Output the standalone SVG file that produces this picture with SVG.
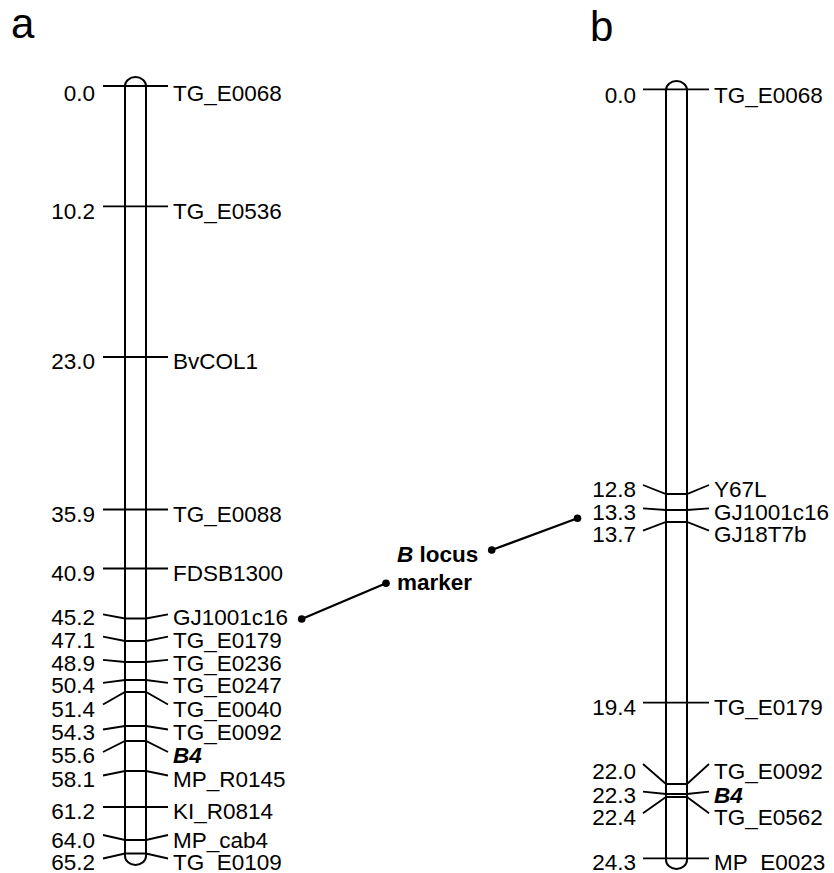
<svg xmlns="http://www.w3.org/2000/svg" width="834" height="873" viewBox="0 0 834 873">
<style>
text{font-family:"Liberation Sans",Arial,sans-serif;font-size:22.5px;fill:#000}
.num{text-anchor:end}
.b{font-weight:bold;font-style:italic}
.bl{font-weight:bold}
.panel{font-size:42px}
.chr{fill:none;stroke:#000;stroke-width:2}
.tk{fill:none;stroke:#000;stroke-width:1.8;stroke-linejoin:miter}
.con{stroke:#000;stroke-width:2.2;fill:none}
.dot{fill:#000}
</style>
<rect width="834" height="873" fill="#fff"/>
<text class="panel" x="11" y="38">a</text>
<text class="panel" x="590" y="41">b</text>

<g id="chrA">
<rect class="chr" x="125" y="77" width="21" height="788" rx="10.5" ry="9"/>
<g id="a_TG_E0068"><polyline class="tk" points="103,86 125,86 146,86 168,86"/><text class="num" x="95" y="101">0.0</text><text x="173" y="101">TG_E0068</text></g>
<g id="a_TG_E0536"><polyline class="tk" points="103,206.3 125,206.3 146,206.3 168,206.3"/><text class="num" x="95" y="218.5">10.2</text><text x="173" y="218.5">TG_E0536</text></g>
<g id="a_BvCOL1"><polyline class="tk" points="103,357 125,357 146,357 168,357"/><text class="num" x="95" y="369">23.0</text><text x="173" y="369">BvCOL1</text></g>
<g id="a_TG_E0088"><polyline class="tk" points="103,509.5 125,509.5 146,509.5 168,509.5"/><text class="num" x="95" y="521.5">35.9</text><text x="173" y="521.5">TG_E0088</text></g>
<g id="a_FDSB1300"><polyline class="tk" points="103,568.5 125,568.5 146,568.5 168,568.5"/><text class="num" x="95" y="580.5">40.9</text><text x="173" y="580.5">FDSB1300</text></g>
<g id="a_GJ1001c16"><polyline class="tk" points="103,614.3 125,618.5 146,618.5 168,614.3"/><text class="num" x="95" y="625">45.2</text><text x="173" y="625">GJ1001c16</text></g>
<g id="a_TG_E0179"><polyline class="tk" points="103,636.7 125,641 146,641 168,636.7"/><text class="num" x="95" y="648">47.1</text><text x="173" y="648">TG_E0179</text></g>
<g id="a_TG_E0236"><polyline class="tk" points="103,659.8 125,662 146,662 168,659.8"/><text class="num" x="95" y="670.5">48.9</text><text x="173" y="670.5">TG_E0236</text></g>
<g id="a_TG_E0247"><polyline class="tk" points="103,682.8 125,680 146,680 168,682.8"/><text class="num" x="95" y="693">50.4</text><text x="173" y="693">TG_E0247</text></g>
<g id="a_TG_E0040"><polyline class="tk" points="103,704.5 125,692 146,692 168,704.5"/><text class="num" x="95" y="716.5">51.4</text><text x="173" y="716.5">TG_E0040</text></g>
<g id="a_TG_E0092"><polyline class="tk" points="103,729.5 125,726 146,726 168,729.5"/><text class="num" x="95" y="740">54.3</text><text x="173" y="740">TG_E0092</text></g>
<g id="a_B4"><polyline class="tk" points="103,752 125,741 146,741 168,752"/><text class="num" x="95" y="763">55.6</text><text class="b" x="173" y="763">B4</text></g>
<g id="a_MP_R0145"><polyline class="tk" points="103,775.5 125,771 146,771 168,775.5"/><text class="num" x="95" y="786.7">58.1</text><text x="173" y="786.7">MP_R0145</text></g>
<g id="a_KI_R0814"><polyline class="tk" points="103,807 125,807 146,807 168,807"/><text class="num" x="95" y="818.5">61.2</text><text x="173" y="818.5">KI_R0814</text></g>
<g id="a_MP_cab4"><polyline class="tk" points="103,835 125,840 146,840 168,835"/><text class="num" x="95" y="847.5">64.0</text><text x="173" y="847.5">MP_cab4</text></g>
<g id="a_TG_E0109"><polyline class="tk" points="103,858.5 125,853.5 146,853.5 168,858.5"/><text class="num" x="95" y="870">65.2</text><text x="173" y="870">TG_E0109</text></g>
</g>

<g id="chrB">
<rect class="chr" x="666" y="81" width="21" height="788" rx="10.5" ry="9"/>
<g id="b_TG_E0068"><polyline class="tk" points="643,89.3 666,89.3 687,89.3 709,89.3"/><text class="num" x="636" y="103.3">0.0</text><text x="714" y="103.3">TG_E0068</text></g>
<g id="b_Y67L"><polyline class="tk" points="643,485 666,494 687,494 709,485"/><text class="num" x="636" y="496.7">12.8</text><text x="714" y="496.7">Y67L</text></g>
<g id="b_GJ1001c16"><polyline class="tk" points="643,508.3 666,510 687,510 709,508.3"/><text class="num" x="636" y="520">13.3</text><text x="714" y="520">GJ1001c16</text></g>
<g id="b_GJ18T7b"><polyline class="tk" points="643,530.7 666,522 687,522 709,530.7"/><text class="num" x="636" y="541.7">13.7</text><text x="714" y="541.7">GJ18T7b</text></g>
<g id="b_TG_E0179"><polyline class="tk" points="643,702.6 666,702.6 687,702.6 709,702.6"/><text class="num" x="636" y="715">19.4</text><text x="714" y="715">TG_E0179</text></g>
<g id="b_TG_E0092"><polyline class="tk" points="643,764 666,784 687,784 709,764"/><text class="num" x="636" y="779.3">22.0</text><text x="714" y="779.3">TG_E0092</text></g>
<g id="b_B4"><polyline class="tk" points="643,791.7 666,794 687,794 709,791.7"/><text class="num" x="636" y="803">22.3</text><text class="b" x="714" y="803">B4</text></g>
<g id="b_TG_E0562"><polyline class="tk" points="643,813.3 666,797 687,797 709,813.3"/><text class="num" x="636" y="825">22.4</text><text x="714" y="825">TG_E0562</text></g>
<g id="b_MP_E0023"><polyline class="tk" points="643,858.3 666,858.3 687,858.3 709,858.3"/><text class="num" x="636" y="870">24.3</text><text x="714" y="870">MP_E0023</text></g>
</g>

<g id="locusLabel">
<text class="bl" x="397" y="562"><tspan class="b">B</tspan> locus</text>
<text class="bl" x="397" y="590">marker</text>
</g>

<g id="connectors">
<line class="con" x1="301.7" y1="619" x2="386" y2="583.3"/>
<circle class="dot" cx="301.7" cy="619" r="3.8"/>
<circle class="dot" cx="386" cy="583.3" r="3.8"/>
<line class="con" x1="491.7" y1="550" x2="577.5" y2="518.3"/>
<circle class="dot" cx="491.7" cy="550" r="3.8"/>
<circle class="dot" cx="577.5" cy="518.3" r="3.8"/>
</g>
</svg>
